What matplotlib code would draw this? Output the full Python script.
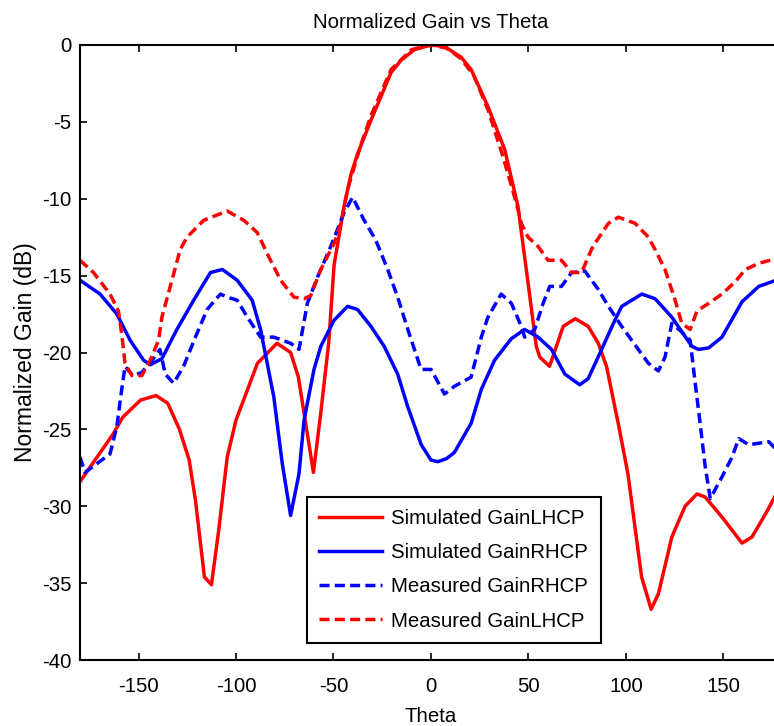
import matplotlib
matplotlib.use("Agg")
import matplotlib.pyplot as plt

plt.rcParams['font.family'] = ['Liberation Sans', 'DejaVu Sans']
plt.rcParams['axes.unicode_minus'] = False

# Simulated LHCP (red solid)
sim_lhcp_theta = [-180, -163, -158, -149, -141, -135, -129, -124, -120.8, -116.2, -112.6, -108.8,
                  -104.5, -100, -89, -79, -72, -68, -60.3, -56.5, -52.4, -49.7, -44.6, -41, -37.7,
                  -30.8, -20.5, -15.4, -8.5, 0, 7, 15.5, 20.6, 29.2, 37.8, 44.6, 49.8, 54, 55.8,
                  60.8, 67.8, 74, 80.6, 85.8, 90, 96, 101, 108, 112.9, 116.6, 123.5, 130.3, 136.4,
                  140.6, 149.2, 159.5, 164.6, 172, 180]
sim_lhcp_gain = [-28.4, -25.3, -24.2, -23.1, -22.8, -23.3, -25.0, -27.0, -29.6, -34.6, -35.1, -31.5,
                 -26.8, -24.4, -20.7, -19.4, -20.0, -21.6, -27.8, -23.9, -19.3, -14.3, -10.5, -8.4, -7.1,
                 -4.9, -1.8, -1.0, -0.3, 0.0, -0.1, -0.8, -1.6, -4.0, -6.8, -10.5, -15.5, -19.6, -20.3,
                 -20.9, -18.3, -17.8, -18.3, -19.4, -20.9, -24.6, -27.9, -34.6, -36.7, -35.7, -32.0,
                 -30.0, -29.2, -29.4, -30.7, -32.4, -32.0, -30.4, -28.5]

# Simulated RHCP (blue solid)
sim_rhcp_theta = [-180, -169.7, -161.1, -154.3, -147.4, -144, -138, -130.3, -121.7, -113.1, -107,
                  -99.4, -91.7, -87.4, -80.6, -76.3, -72, -67.7, -65.1, -60, -56.5, -49.7, -42.8,
                  -37.7, -30.8, -24, -17.1, -12, -5, 0, 3.5, 8, 12, 20.6, 25.8, 32.6, 41.2, 48, 54.9,
                  61.8, 68.6, 76.3, 80.6, 87.5, 94.3, 97.8, 108.1, 114.9, 123.5, 133.8, 137.2, 142.4,
                  149.2, 159.5, 168.1, 177, 180]
sim_rhcp_gain = [-15.3, -16.2, -17.5, -19.2, -20.5, -20.8, -20.4, -18.5, -16.6, -14.8, -14.6,
                 -15.3, -16.6, -18.5, -22.9, -27.2, -30.6, -27.9, -24.4, -21.1, -19.6, -17.9, -17.0,
                 -17.2, -18.3, -19.6, -21.4, -23.5, -26.0, -27.0, -27.1, -26.9, -26.5, -24.6, -22.4,
                 -20.5, -19.1, -18.5, -19.0, -19.8, -21.4, -22.1, -21.7, -19.8, -17.9, -17.0, -16.2,
                 -16.5, -17.7, -19.6, -19.8, -19.7, -19.0, -16.7, -15.7, -15.3, -15.3]

# Measured RHCP (blue dashed)
meas_rhcp_theta = [-180, -177.4, -164.6, -161.1, -158.6, -156.9, -153, -148.3, -143, -139, -136.3,
                   -132, -126.9, -120.8, -114.8, -108, -104.5, -99.4, -94.2, -87.4, -80.6, -72, -67.7,
                   -63.4, -58.2, -51.4, -44.6, -40.2, -34.3, -28.3, -22.2, -17.1, -11.9, -8.5, -5.1, 0,
                   6.9, 12, 20.6, 25.8, 29.2, 36, 41.2, 46.3, 48, 53.2, 57.5, 60.9, 66.9, 72.1, 78.9,
                   85.8, 91, 97.8, 106.3, 111.5, 116.6, 120, 123.5, 128, 132.9, 135.5, 138, 140.6,
                   143.2, 149.2, 154.4, 157.8, 163, 173.2, 177, 180]
meas_rhcp_gain = [-26.8, -27.8, -26.6, -24.8, -22.4, -20.9, -21.5, -21.3, -20.5, -19.8, -21.4,
                  -22.0, -20.9, -19.0, -17.2, -16.2, -16.4, -16.6, -17.7, -19.0, -19.0, -19.4, -19.8,
                  -16.8, -15.1, -13.1, -10.9, -9.9, -11.4, -12.7, -14.6, -16.4, -18.5, -19.8, -21.1,
                  -21.1, -22.7, -22.2, -21.6, -19.0, -17.7, -16.2, -16.8, -18.3, -19.0, -18.5, -16.8,
                  -15.7, -15.7, -14.8, -14.7, -15.9, -17.0, -18.3, -19.8, -20.7, -21.2, -20.3, -18.1,
                  -18.6, -19.2, -22.0, -24.6, -27.4, -29.5, -28.1, -26.8, -25.6, -26.0, -25.8, -26.3,
                  -26.8]

# Measured LHCP (red dashed)
meas_lhcp_theta = [-180, -173.1, -164.6, -160.3, -158.6, -156.9, -153.4, -148.3, -144, -139.7,
                   -138, -133.7, -128.6, -125.1, -116.6, -104.5, -96, -89.1, -83.1, -77.1, -70.3,
                   -65, -61.7, -56.5, -49.7, -46, -42.8, -36, -30.8, -20.5, -10, 0, 8, 15.5, 22, 29.2,
                   37, 42, 44.6, 46.3, 49.8, 54.9, 60, 66.9, 72, 77.2, 82.3, 84.1, 91, 96.1, 104.7,
                   111.5, 114.9, 120, 125.2, 128.6, 132.9, 136.4, 142.4, 149.2, 156, 161.2, 168.1,
                   177, 180]
meas_lhcp_gain = [-14.0, -14.8, -16.2, -17.3, -18.8, -20.7, -21.5, -21.5, -20.5, -19.2, -17.7,
                  -15.7, -13.3, -12.5, -11.4, -10.8, -11.4, -12.2, -13.8, -15.3, -16.4, -16.5, -16.3,
                  -14.6, -12.9, -11.5, -9.4, -6.5, -4.6, -1.6, -0.3, 0.0, -0.2, -0.9, -2.0, -4.2,
                  -7.3, -9.5, -10.7, -11.6, -12.5, -13.1, -14.0, -14.0, -14.8, -14.8, -13.3, -12.9,
                  -11.6, -11.2, -11.6, -12.5, -13.3, -14.6, -16.6, -18.1, -18.5, -17.3, -16.8, -16.2,
                  -15.4, -14.6, -14.2, -13.9, -13.9]

x_ticks = [-150, -100, -50, 0, 50, 100, 150]
y_ticks = [-40, -35, -30, -25, -20, -15, -10, -5, 0]

fig = plt.figure(figsize=(7.74, 7.26), dpi=100)
# axes runs a little past the right edge of the picture, like the reference crop
ax = fig.add_axes([80 / 774, 66 / 726, 702 / 774, 615 / 726])

lw = 2.5
dash = (0, (2.9, 1.5))
ax.plot(sim_lhcp_theta, sim_lhcp_gain, color='#ff0000', lw=lw, label='Simulated GainLHCP')
ax.plot(sim_rhcp_theta, sim_rhcp_gain, color='#0000ff', lw=lw, label='Simulated GainRHCP')
ax.plot(meas_rhcp_theta, meas_rhcp_gain, color='#0000ff', lw=lw, ls=dash, label='Measured GainRHCP')
ax.plot(meas_lhcp_theta, meas_lhcp_gain, color='#ff0000', lw=lw, ls=dash, label='Measured GainLHCP')

fs = 14.7
ax.set_xlim(-180, 180)
ax.set_ylim(-40, 0)
ax.set_xticks(x_ticks)
ax.set_yticks(y_ticks)
ax.tick_params(direction='in', length=5, width=1.2, top=True, right=True, labelsize=fs)
ax.tick_params(axis='x', pad=12)
ax.tick_params(axis='y', pad=6)
for sp in ax.spines.values():
    sp.set_linewidth(1.5)

ax.set_title('Normalized Gain vs Theta', fontsize=fs, pad=12)
ax.set_xlabel('Theta', fontsize=fs, labelpad=8)
ax.set_ylabel('Normalized Gain (dB)', fontsize=16.5, labelpad=4)

leg = ax.legend(loc='lower left', bbox_to_anchor=(0.323, 0.028), fontsize=fs, frameon=True,
                fancybox=False, edgecolor='black', framealpha=1, handlelength=3.1,
                handletextpad=0.45, labelspacing=0.74, borderpad=0.6, borderaxespad=0)
leg.get_frame().set_linewidth(1.5)

fig.savefig('out.png', dpi=100)
